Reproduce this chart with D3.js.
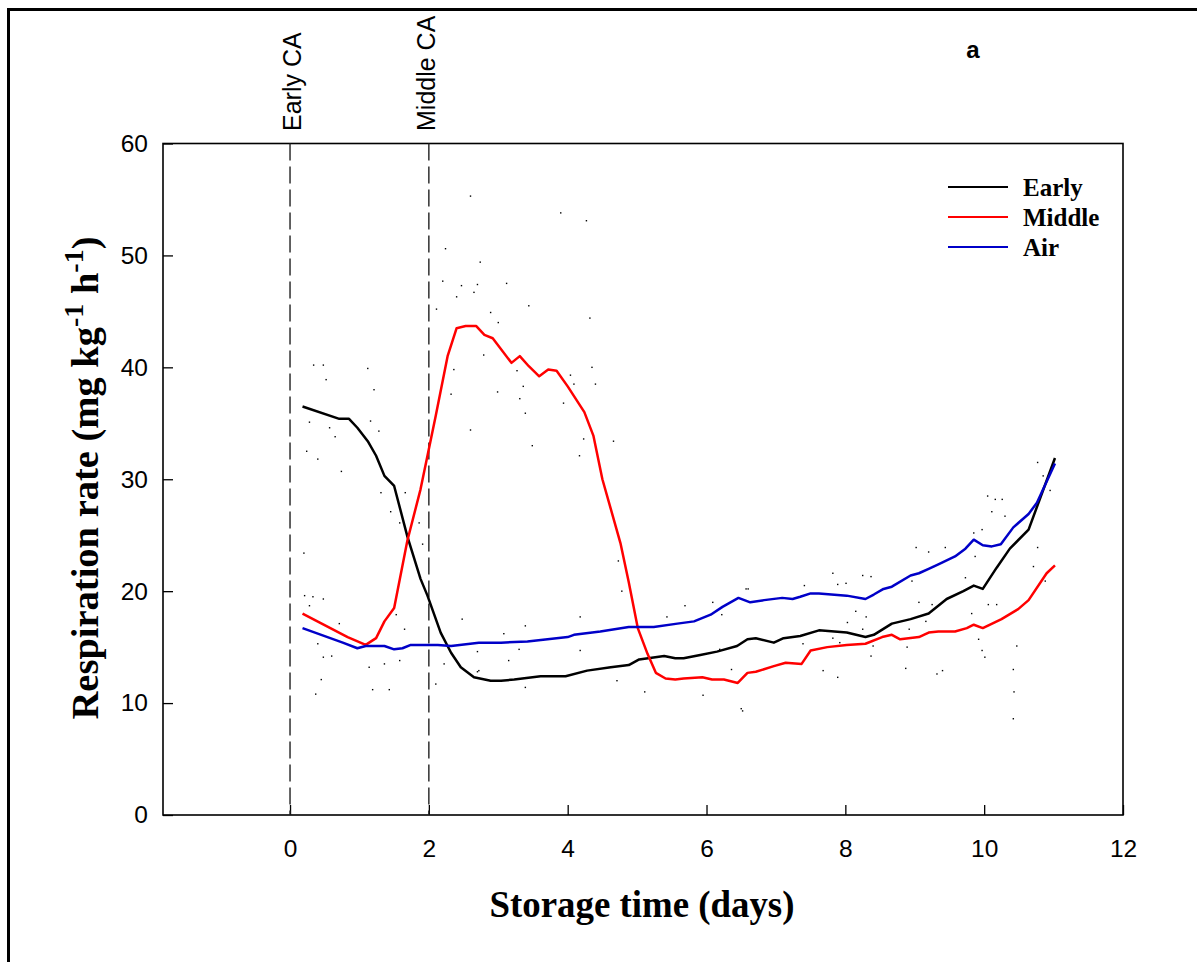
<!DOCTYPE html>
<html>
<head>
<meta charset="utf-8">
<script src="https://cdn.jsdelivr.net/npm/d3@7"></script>
<style>
  body { margin: 0; background: #fff; }
  svg { display: block; }
</style>
</head>
<body>
<div id="container"></div>
<script>
/**
 * CONSTANTS AND GLOBALS
 * */
const width = 1197,
  height = 962,
  margin = { top: 143.5, bottom: 147, left: 163, right: 74 };

// storage time (days) and respiration rate (mg kg-1 h-1)
const earlyDays = [0.18, 0.71, 0.85, 0.97, 1.12, 1.24, 1.36, 1.50, 1.69, 1.88, 1.98, 2.17, 2.32, 2.46, 2.65, 2.89, 3.04, 3.23, 3.61, 3.97, 4.28, 4.62, 4.88, 5.03, 5.39, 5.55, 5.67, 5.91, 6.15, 6.44, 6.59, 6.71, 6.97, 7.11, 7.35, 7.62, 8.02, 8.29, 8.41, 8.67, 8.94, 9.20, 9.46, 9.70, 9.85, 9.98, 10.18, 10.37, 10.64, 11.02];
const earlyRate = [36.5, 35.4, 35.4, 34.6, 33.4, 32.1, 30.3, 29.4, 24.9, 21.1, 19.6, 16.3, 14.5, 13.2, 12.3, 12.0, 12.0, 12.1, 12.4, 12.4, 12.9, 13.2, 13.4, 13.9, 14.2, 14.0, 14.0, 14.3, 14.6, 15.1, 15.7, 15.8, 15.4, 15.8, 16.0, 16.5, 16.3, 15.9, 16.1, 17.1, 17.5, 18.0, 19.3, 20.0, 20.5, 20.2, 22.1, 23.8, 25.5, 31.9];

const middleDays = [0.18, 0.83, 1.09, 1.24, 1.36, 1.50, 1.69, 1.88, 1.98, 2.10, 2.27, 2.40, 2.53, 2.68, 2.80, 2.92, 3.19, 3.31, 3.44, 3.59, 3.72, 3.84, 4.00, 4.24, 4.37, 4.50, 4.76, 4.88, 5.01, 5.15, 5.27, 5.41, 5.55, 5.67, 5.94, 6.08, 6.25, 6.45, 6.59, 6.71, 6.97, 7.14, 7.37, 7.50, 7.74, 8.02, 8.29, 8.53, 8.67, 8.79, 9.06, 9.20, 9.34, 9.58, 9.75, 9.85, 9.98, 10.25, 10.49, 10.64, 10.90, 11.02];
const middleRate = [18.0, 15.9, 15.2, 15.8, 17.3, 18.5, 24.5, 29.1, 32.1, 35.7, 41.0, 43.5, 43.7, 43.7, 42.9, 42.6, 40.4, 41.0, 40.1, 39.2, 39.8, 39.7, 38.3, 36.0, 33.9, 30.0, 24.3, 20.8, 16.7, 14.4, 12.7, 12.2, 12.1, 12.2, 12.3, 12.1, 12.1, 11.8, 12.7, 12.8, 13.3, 13.6, 13.5, 14.7, 15.0, 15.2, 15.3, 15.9, 16.1, 15.7, 15.9, 16.3, 16.4, 16.4, 16.7, 17.0, 16.7, 17.5, 18.4, 19.2, 21.6, 22.3];

const airDays = [0.18, 0.76, 0.97, 1.09, 1.36, 1.50, 1.62, 1.74, 1.98, 2.13, 2.32, 2.72, 3.04, 3.42, 4.00, 4.09, 4.47, 4.88, 5.24, 5.58, 5.82, 6.06, 6.23, 6.46, 6.63, 6.83, 7.09, 7.24, 7.35, 7.50, 7.62, 8.02, 8.29, 8.41, 8.55, 8.67, 8.94, 9.06, 9.20, 9.34, 9.58, 9.73, 9.85, 9.98, 10.11, 10.24, 10.42, 10.64, 10.76, 11.02];
const airRate = [16.7, 15.4, 14.9, 15.1, 15.1, 14.8, 14.9, 15.2, 15.2, 15.2, 15.1, 15.4, 15.4, 15.5, 15.9, 16.1, 16.4, 16.8, 16.8, 17.1, 17.3, 17.9, 18.6, 19.4, 19.0, 19.2, 19.4, 19.3, 19.5, 19.8, 19.8, 19.6, 19.3, 19.7, 20.2, 20.4, 21.4, 21.6, 22.0, 22.4, 23.1, 23.8, 24.6, 24.1, 24.0, 24.2, 25.7, 26.9, 27.9, 31.4];

// raw readings shown as tiny dots
const dotDays = [0.34, 0.48, 0.52, 1.12, 1.21, 1.16, 0.28, 0.57, 0.65, 0.24, 0.40, 0.74, 1.28, 1.31, 1.45, 1.58, 1.66, 2.60, 2.79, 0.20, 0.21, 0.33, 0.48, 0.28, 0.71, 0.40, 0.60, 0.48, 1.14, 1.36, 1.58, 1.53, 1.65, 0.45, 0.37, 1.19, 1.43, 2.10, 2.22, 2.48, 2.72, 2.36,
  2.24, 2.74, 2.20, 2.47, 2.70, 2.65, 2.40, 3.12, 3.44, 2.89, 3.00, 4.32, 2.11, 4.27, 3.27, 4.35, 4.04, 4.09, 4.40, 3.36, 2.99, 2.32, 3.31, 3.94, 3.39, 4.66, 4.23, 3.49, 4.17, 1.86, 1.91, 4.73, 4.78, 3.39, 4.18, 5.69, 6.22, 6.60, 3.08, 5.43, 2.70, 3.15, 3.30, 2.70, 3.39, 4.71, 5.11, 5.95, 4.18, 2.60, 3.90,
  10.77, 10.85, 10.95, 10.05, 10.16, 10.26, 10.11, 10.30, 9.85, 9.97, 10.77, 9.02, 9.20, 9.44, 10.71, 10.88, 9.87, 9.73, 10.06, 10.18, 9.82, 8.96, 8.25, 8.37, 7.89, 8.01, 7.82, 6.57, 7.41, 9.06, 9.25, 8.15, 7.63, 7.82, 7.92, 8.03, 8.25, 8.30, 8.40, 8.37, 9.16, 8.92, 8.89, 8.87, 9.32, 9.40, 9.97, 10.01, 9.92, 10.47, 10.42, 10.43, 10.42, 7.89, 7.68, 7.39, 6.50, 6.52, 6.19, 6.36, 6.09];
const dotRate = [40.2, 40.2, 38.9, 39.9, 38.0, 35.2, 35.1, 34.6, 33.8, 32.5, 31.8, 30.7, 34.3, 28.8, 27.1, 26.1, 28.8, 34.4, 41.1, 23.4, 19.6, 19.5, 19.3, 18.7, 17.1, 15.3, 14.2, 14.1, 13.2, 13.5, 13.8, 17.9, 16.6, 12.1, 10.8, 11.2, 11.2, 11.7, 13.5, 17.5, 12.9, 39.8,
  50.6, 49.4, 47.7, 47.3, 47.4, 46.7, 46.3, 47.5, 45.5, 44.9, 44.0, 44.4, 45.2, 53.1, 39.7, 40.0, 39.3, 38.5, 38.5, 38.3, 37.8, 37.6, 37.2, 36.8, 35.9, 33.4, 33.6, 33.0, 32.1, 26.1, 24.2, 22.7, 20.0, 16.9, 17.7, 18.7, 17.9, 20.2, 16.2, 17.7, 14.6, 13.8, 14.8, 12.8, 11.4, 12.0, 11.0, 10.7, 14.7, 55.3, 53.8,
  31.5, 30.3, 29.0, 28.5, 28.2, 28.2, 27.1, 26.7, 25.2, 25.5, 23.9, 23.9, 23.5, 23.9, 22.2, 20.9, 23.1, 21.2, 18.8, 18.8, 18.0, 20.9, 21.4, 21.3, 20.6, 20.7, 21.6, 20.2, 20.5, 19.0, 18.8, 18.2, 16.5, 15.8, 15.4, 17.2, 16.6, 17.7, 15.1, 14.2, 17.3, 16.6, 15.0, 13.1, 12.6, 12.9, 14.7, 14.1, 15.7, 15.1, 13.0, 11.0, 8.6, 12.3, 12.9, 15.3, 9.5, 9.3, 14.8, 13.0, 19.0];

const xTicks = [0, 2, 4, 6, 8, 10, 12];
const yTicks = [0, 10, 20, 30, 40, 50, 60];
const caDays = [0, 2];
const caLabels = ["Early CA", "Middle CA"];
const seriesNames = ["Early", "Middle", "Air"];
const seriesColors = ["#000000", "#ff0000", "#0000c8"];

let svg;

init();

/**
 * INITIALIZING FUNCTION
 * */
function init() {
  svg = d3.select("#container")
    .append("svg")
    .attr("width", width)
    .attr("height", height);

  // outer frame (only left and top edges show)
  svg.append("rect")
    .attr("x", 8.5).attr("y", 9.5)
    .attr("width", 1400).attr("height", 1200)
    .attr("fill", "none")
    .attr("stroke", "#000")
    .attr("stroke-width", 3);

  const xScale = d3.scaleLinear()
    .domain([-1.83, 12])
    .range([margin.left, width - margin.right]);

  const yScale = d3.scaleLinear()
    .domain([0, 60])
    .range([height - margin.bottom, margin.top]);

  const top = margin.top, bottom = height - margin.bottom;

  // axes with inward ticks
  svg.append("g")
    .attr("transform", `translate(0,${bottom})`)
    .call(d3.axisBottom(xScale).tickValues(xTicks).tickSizeInner(-10).tickSizeOuter(0).tickPadding(25))
    .call(g => g.select(".domain").remove())
    .call(g => g.selectAll("line").attr("stroke-width", 1.3))
    .call(g => g.selectAll("text")
      .attr("font-family", "Liberation Sans, Arial, sans-serif")
      .attr("font-size", 24.5)
      .attr("fill", "#000"));

  svg.append("g")
    .attr("transform", `translate(${margin.left},0)`)
    .call(d3.axisLeft(yScale).tickValues(yTicks).tickSizeInner(-10).tickSizeOuter(0).tickPadding(15))
    .call(g => g.select(".domain").remove())
    .call(g => g.selectAll("line").attr("stroke-width", 1.3))
    .call(g => g.selectAll("text")
      .attr("font-family", "Liberation Sans, Arial, sans-serif")
      .attr("font-size", 24.5)
      .attr("fill", "#000"));

  // plot frame
  svg.append("rect")
    .attr("x", margin.left).attr("y", top)
    .attr("width", xScale.range()[1] - margin.left)
    .attr("height", bottom - top)
    .attr("fill", "none")
    .attr("stroke", "#000")
    .attr("stroke-width", 1.6);

  // dashed CA markers
  svg.selectAll(".ca-line")
    .data(caDays)
    .join("line")
    .attr("class", "ca-line")
    .attr("x1", d => xScale(d)).attr("x2", d => xScale(d))
    .attr("y1", top).attr("y2", bottom)
    .attr("stroke", "#222")
    .attr("stroke-width", 1.4)
    .attr("stroke-dasharray", "17,6");

  svg.selectAll(".ca-label")
    .data(caDays)
    .join("text")
    .attr("class", "ca-label")
    .attr("transform", (d, i) => `translate(${xScale(d) + (i === 0 ? 11 : 6)},131) rotate(-90)`)
    .attr("font-family", "Liberation Sans, Arial, sans-serif")
    .attr("font-size", 25)
    .attr("fill", "#000")
    .text((d, i) => caLabels[i]);

  // raw dots
  svg.selectAll(".dot")
    .data(dotDays.map((d, i) => [d, dotRate[i]]))
    .join("rect")
    .attr("class", "dot")
    .attr("x", d => xScale(d[0]) - 0.7)
    .attr("y", d => yScale(d[1]) - 0.7)
    .attr("width", 1.4).attr("height", 1.4)
    .attr("fill", "#000");

  // lines
  const lineGen = d3.line()
    .x(d => xScale(d[0]))
    .y(d => yScale(d[1]));

  const seriesData = [
    earlyDays.map((d, i) => [d, earlyRate[i]]),
    middleDays.map((d, i) => [d, middleRate[i]]),
    airDays.map((d, i) => [d, airRate[i]])
  ];

  svg.selectAll(".series")
    .data(seriesData)
    .join("path")
    .attr("class", "series")
    .attr("d", d => lineGen(d))
    .attr("fill", "none")
    .attr("stroke", (d, i) => seriesColors[i])
    .attr("stroke-width", 2.5)
    .attr("stroke-linejoin", "round");

  // legend
  svg.selectAll(".legend-line")
    .data(seriesNames)
    .join("line")
    .attr("class", "legend-line")
    .attr("x1", 948).attr("x2", 1008)
    .attr("y1", (_, i) => 187 + i * 30)
    .attr("y2", (_, i) => 187 + i * 30)
    .attr("stroke", (_, i) => seriesColors[i])
    .attr("stroke-width", 2.2);

  svg.selectAll(".legend")
    .data(seriesNames)
    .join("text")
    .attr("class", "legend")
    .attr("x", 1023)
    .attr("y", (_, i) => 196 + i * 30)
    .attr("font-family", "Liberation Serif, Times New Roman, serif")
    .attr("font-weight", "bold")
    .attr("font-size", 25)
    .text(d => d);

  // panel letter
  svg.append("text")
    .attr("x", 973).attr("y", 58)
    .attr("text-anchor", "middle")
    .attr("font-family", "Liberation Sans, Arial, sans-serif")
    .attr("font-weight", "bold")
    .attr("font-size", 24)
    .text("a");

  // axis titles
  svg.append("text")
    .attr("x", 642).attr("y", 917)
    .attr("text-anchor", "middle")
    .attr("font-family", "Liberation Serif, Times New Roman, serif")
    .attr("font-weight", "bold")
    .attr("font-size", 37)
    .attr("textLength", 305)
    .attr("lengthAdjust", "spacingAndGlyphs")
    .text("Storage time (days)");

  const yTitle = svg.append("text")
    .attr("transform", "translate(98,478) rotate(-90)")
    .attr("text-anchor", "middle")
    .attr("font-family", "Liberation Serif, Times New Roman, serif")
    .attr("font-weight", "bold")
    .attr("font-size", 38.5);
  yTitle.append("tspan").text("Respiration rate (mg kg");
  yTitle.append("tspan").attr("dy", -15).attr("font-size", 28).text("-1");
  yTitle.append("tspan").attr("dy", 15).text(" h");
  yTitle.append("tspan").attr("dy", -15).attr("font-size", 28).text("-1");
  yTitle.append("tspan").attr("dy", 15).text(")");
}
</script>
</body>
</html>
